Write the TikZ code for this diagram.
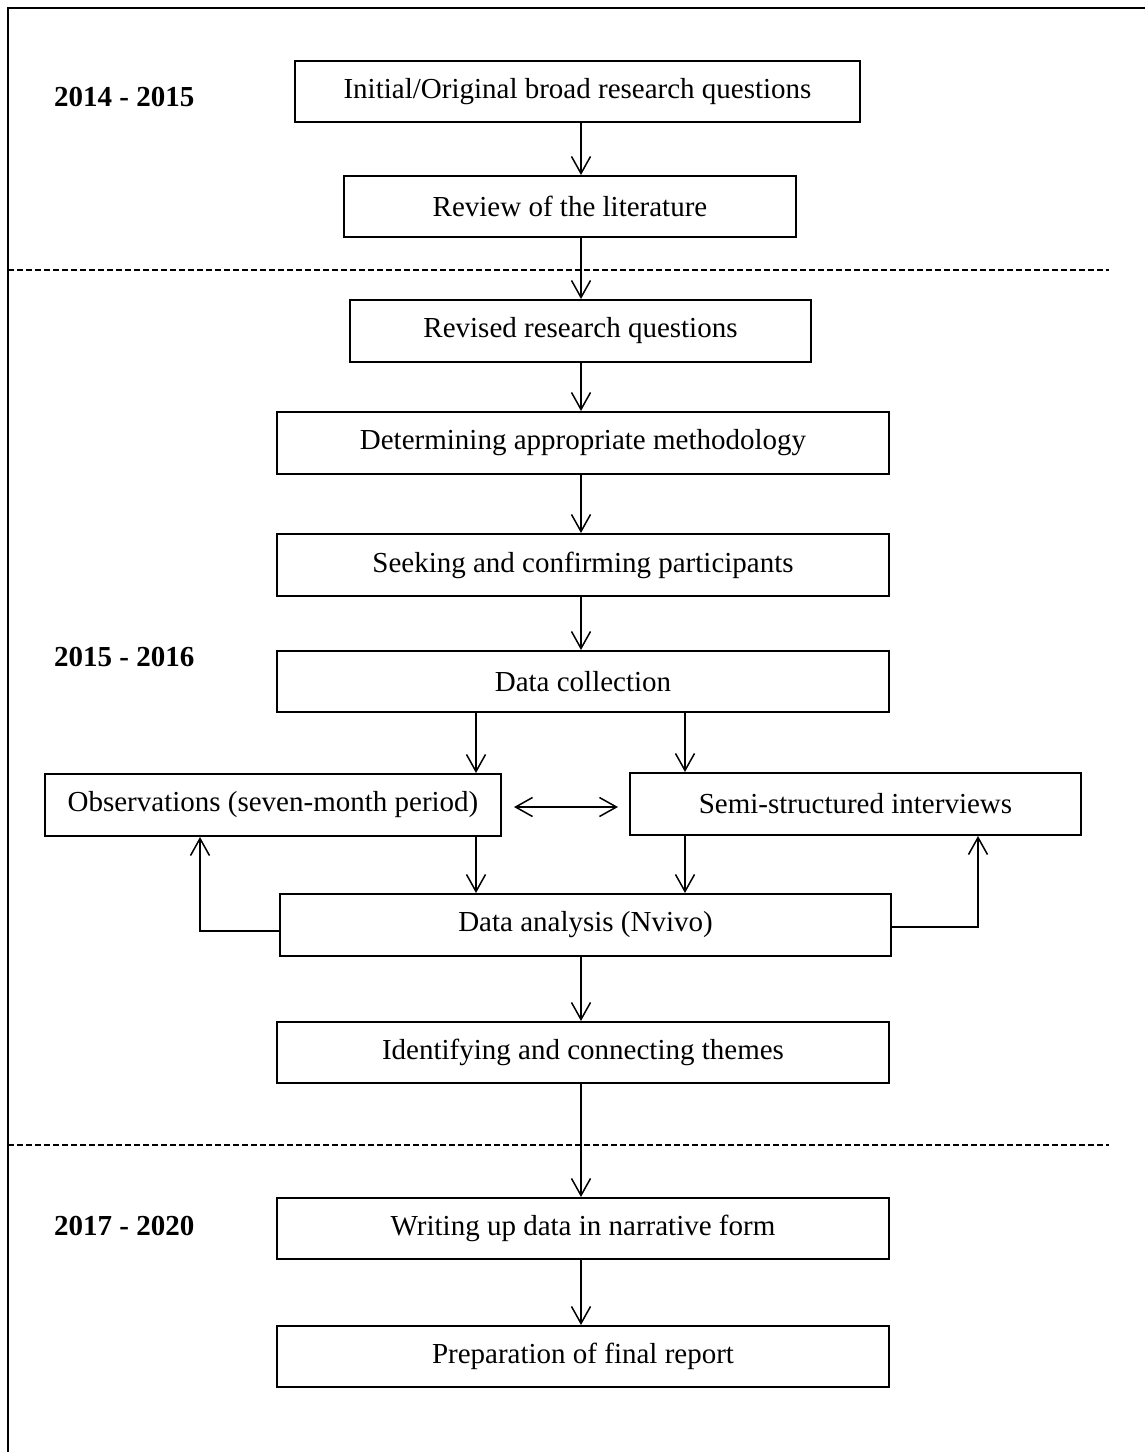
\documentclass[tikz,border=0pt]{standalone}
\usepackage{fontspec}
\setmainfont{Liberation Serif}
\usetikzlibrary{arrows.meta}
\begin{document}
\begin{tikzpicture}[x=1pt,y=-1pt,
  box/.style={draw, line width=2pt, inner sep=0pt, align=center,
    font=\fontsize{29}{34}\selectfont},
  yearlabel/.style={anchor=west, inner sep=0pt, font=\fontsize{29}{34}\selectfont\bfseries},
  arr/.style={line width=1.5pt, -{Straight Barb[length=17pt,width=19pt,line width=1.5pt]}},
  arrboth/.style={line width=1.5pt, {Straight Barb[length=17pt,width=19pt,line width=1.5pt]}-{Straight Barb[length=17pt,width=19pt,line width=1.5pt]}},
  divider/.style={line width=1.4pt, dash pattern=on 6pt off 3pt},
  frame/.style={line width=2.8pt}]
\useasboundingbox (0,0) rectangle (1144,1452);

% outer frame (open at the right and bottom edges)
\draw[frame] (8,1460) -- (8,8) -- (1150,8);

% period labels
\node[yearlabel] (y1) at (54,97) {2014 - 2015};
\node[yearlabel] (y2) at (54,657) {2015 - 2016};
\node[yearlabel] (y3) at (54,1226) {2017 - 2020};

% period dividers
\coordinate (d1a) at (8,270);   \coordinate (d1b) at (1109,270);
\coordinate (d2a) at (8,1145);  \coordinate (d2b) at (1109,1145);
\draw[divider] (d1a) -- (d1b);
\draw[divider] (d2a) -- (d2b);

% stages
\node[box, minimum width=565pt, minimum height=61pt] (b1) at (577.5,91.5) {Initial/Original broad research questions};
\node[box, minimum width=452pt, minimum height=61pt] (b2) at (570,206.5) {Review of the literature};
\node[box, minimum width=461pt, minimum height=62pt] (b3) at (580.5,331) {Revised research questions};
\node[box, minimum width=612pt, minimum height=62pt] (b4) at (583,443) {Determining appropriate methodology};
\node[box, minimum width=612pt, minimum height=62pt] (b5) at (583,565) {Seeking and confirming participants};
\node[box, minimum width=612pt, minimum height=61pt] (b6) at (583,681.5) {Data collection};
\node[box, minimum width=456pt, minimum height=62pt] (obs) at (273,805) {Observations (seven-month period)};
\node[box, minimum width=451pt, minimum height=62pt] (semi) at (855.5,804) {Semi-structured interviews};
\node[box, minimum width=611pt, minimum height=62pt] (da) at (585.5,925) {Data analysis (Nvivo)};
\node[box, minimum width=612pt, minimum height=61pt] (b7) at (583,1052.5) {Identifying and connecting themes};
\node[box, minimum width=612pt, minimum height=61pt] (b8) at (583,1228.5) {Writing up data in narrative form};
\node[box, minimum width=612pt, minimum height=61pt] (b9) at (583,1356.5) {Preparation of final report};

% vertical guides for the connectors
\coordinate (ax) at (581,0);
\coordinate (axL) at (476,0);
\coordinate (axR) at (685,0);
\coordinate (fbL) at (200,0);
\coordinate (fbR) at (978,0);

% main flow
\draw[arr] (b1.south -| ax) -- (b2.north -| ax);
\draw[arr] (b2.south -| ax) -- (b3.north -| ax);
\draw[arr] (b3.south -| ax) -- (b4.north -| ax);
\draw[arr] (b4.south -| ax) -- (b5.north -| ax);
\draw[arr] (b5.south -| ax) -- (b6.north -| ax);
\draw[arr] (b6.south -| axL) -- (obs.north -| axL);
\draw[arr] (b6.south -| axR) -- (semi.north -| axR);
\draw[arrboth] ([xshift=12pt,yshift=-2pt]obs.east) -- ([xshift=-11pt,yshift=-3pt]semi.west);
\draw[arr] (obs.south -| axL) -- (da.north -| axL);
\draw[arr] (semi.south -| axR) -- (da.north -| axR);
\draw[arr] ([yshift=-6pt]da.west) -| (obs.south -| fbL);
\draw[arr] ([yshift=-2pt]da.east) -| (semi.south -| fbR);
\draw[arr] (da.south -| ax) -- (b7.north -| ax);
\draw[arr] (b7.south -| ax) -- (b8.north -| ax);
\draw[arr] (b8.south -| ax) -- (b9.north -| ax);
\end{tikzpicture}
\end{document}
